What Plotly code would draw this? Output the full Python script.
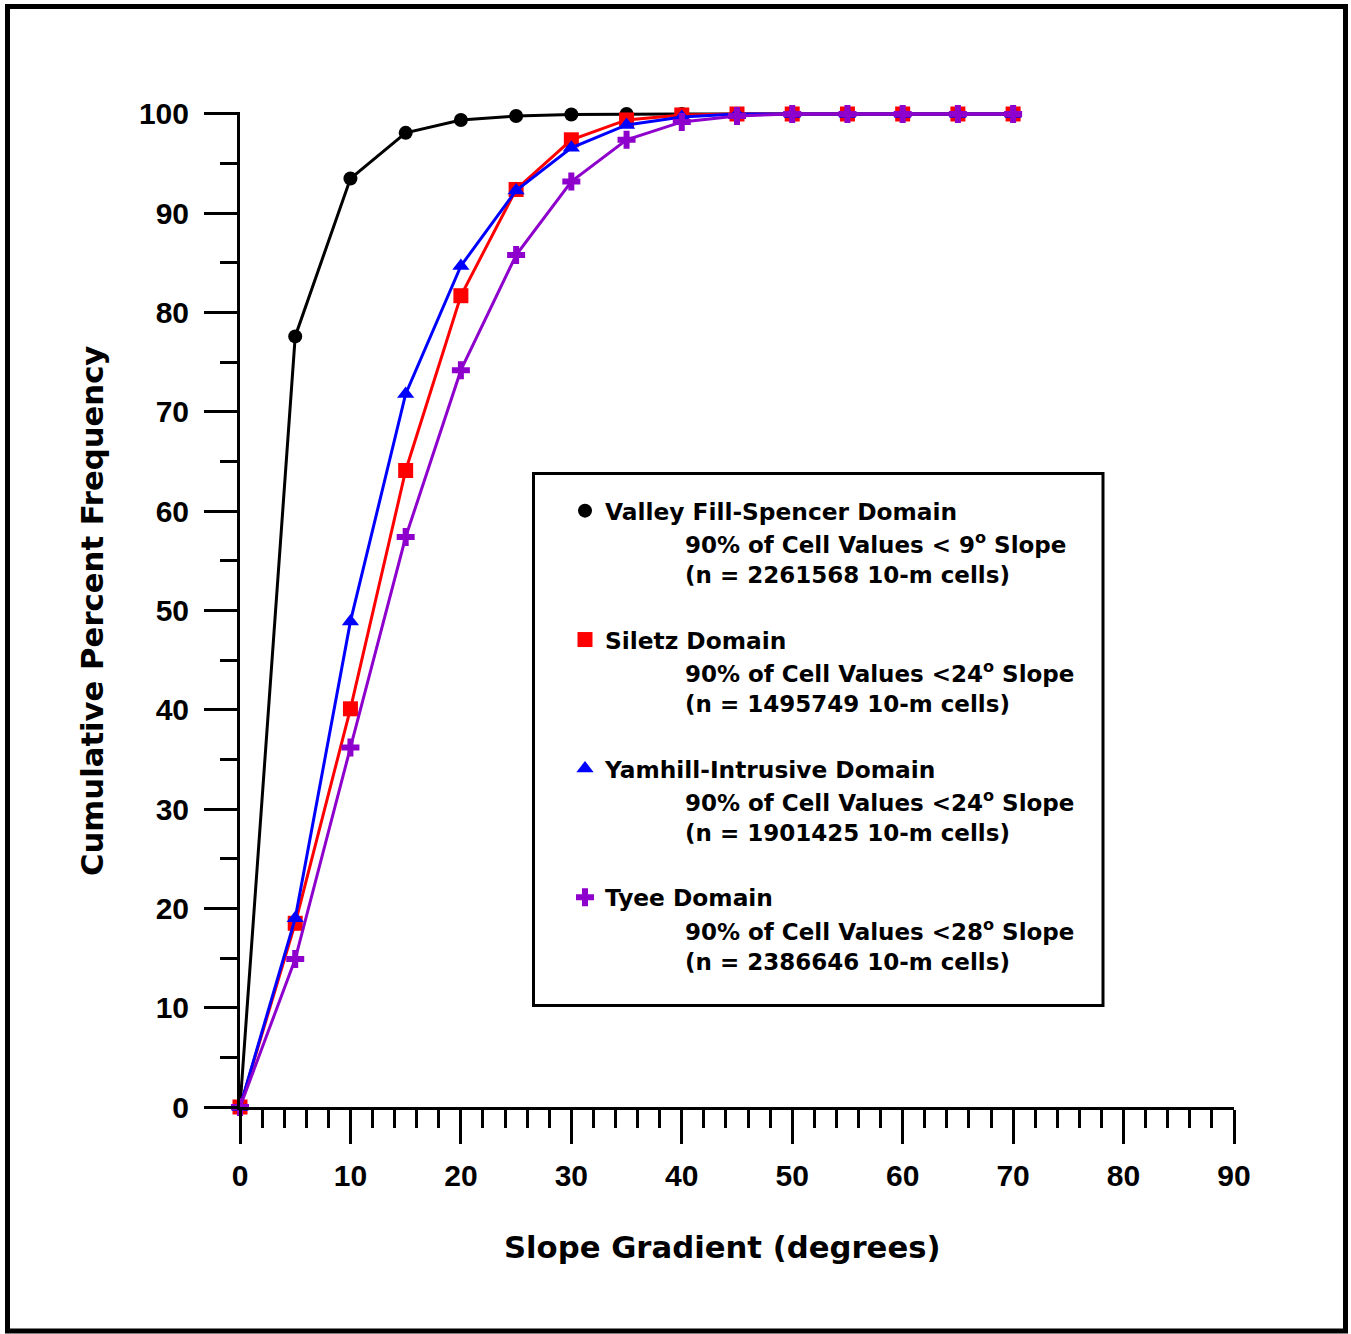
import plotly.graph_objects as go

# ---------------- data ----------------
slope_deg = [0, 5, 10, 15, 20, 25, 30, 35, 40, 45, 50, 55, 60, 65, 70]

valley_fill = [0, 77.6, 93.5, 98.1, 99.4, 99.8, 99.95, 100, 100, 100, 100, 100, 100, 100, 100]
siletz      = [0, 18.5, 40.1, 64.1, 81.7, 92.4, 97.4, 99.4, 99.9, 100, 100, 100, 100, 100, 100]
yamhill     = [0, 19.0, 48.9, 71.8, 84.7, 92.3, 96.6, 98.9, 99.7, 100, 100, 100, 100, 100, 100]
tyee        = [0, 14.9, 36.2, 57.4, 74.2, 85.8, 93.2, 97.4, 99.2, 99.8, 100, 100, 100, 100, 100]

series_names = ["Valley Fill-Spencer Domain", "Siletz Domain",
                "Yamhill-Intrusive Domain", "Tyee Domain"]
series_sub1 = ["90% of Cell Values < 9<sup>o</sup> Slope",
               "90% of Cell Values <24<sup>o</sup> Slope",
               "90% of Cell Values <24<sup>o</sup> Slope",
               "90% of Cell Values <28<sup>o</sup> Slope"]
series_sub2 = ["(n = 2261568 10-m cells)", "(n = 1495749 10-m cells)",
               "(n = 1901425 10-m cells)", "(n = 2386646 10-m cells)"]

x_tick_vals = [0, 10, 20, 30, 40, 50, 60, 70, 80, 90]
y_tick_vals = [0, 10, 20, 30, 40, 50, 60, 70, 80, 90, 100]

# ---------------- styling ----------------
W, H = 1351, 1334
L, R_EDGE, T, B_EDGE = 240, 1234, 112, 1107   # plot area in pixels
Y_MAX = 100.2

def px_x(p):
    return (p - L) / (R_EDGE - L)

def px_y(p):
    return (B_EDGE - p) / (B_EDGE - T)

colors = ["#000000", "#FF0000", "#0000FF", "#8E00CC"]
symbols = ["circle", "square", "triangle-up", "cross"]
msizes = [14, 15, 15, 15]
lwidths = [3, 3, 3, 3]
all_series = [valley_fill, siletz, yamhill, tyee]

TICK_FONT = dict(family="Liberation Sans, Arial, sans-serif", size=30, color="black", weight="bold")
TEXT_FAMILY = "DejaVu Sans, Verdana, sans-serif"

fig = go.Figure()
for i, ys in enumerate(all_series):
    fig.add_trace(go.Scatter(
        x=slope_deg, y=ys, mode="lines",
        line=dict(color=colors[i], width=lwidths[i]),
        showlegend=False, cliponaxis=False, hoverinfo="skip"))
    fig.add_trace(go.Scatter(
        x=slope_deg, y=ys, mode="markers", name=series_names[i],
        legendgroup=f"g{i}",
        marker=dict(color=colors[i], symbol=symbols[i], size=msizes[i], line=dict(width=0)),
        showlegend=True, cliponaxis=False))

axis_common = dict(
    showgrid=False, zeroline=False, showline=True, linecolor="black", linewidth=3,
    ticks="outside", tickcolor="black", tickwidth=3, tickfont=TICK_FONT,
)

fig.update_xaxes(range=[0, 90], tickvals=x_tick_vals, ticklen=34,
                 minor=dict(dtick=2, ticks="outside", ticklen=18, tickwidth=3, tickcolor="black"),
                 ticklabelstandoff=6, **axis_common)
fig.update_yaxes(range=[0, Y_MAX], tickvals=y_tick_vals, ticklen=33,
                 minor=dict(tickvals=[5, 15, 25, 35, 45, 55, 65, 75, 85, 95], ticks="outside",
                            ticklen=17, tickwidth=3, tickcolor="black"),
                 ticklabelstandoff=9, **axis_common)

shapes = [
    # outer frame
    dict(type="rect", xref="paper", yref="paper",
         x0=px_x(7.5), x1=px_x(1345.5), y0=px_y(1331), y1=px_y(6.5),
         line=dict(color="black", width=5), layer="below"),
    # legend box
    dict(type="rect", xref="paper", yref="paper",
         x0=px_x(533.5), x1=px_x(1103), y0=px_y(1005.5), y1=px_y(473.5),
         line=dict(color="black", width=3), layer="below"),
]

annotations = [
    dict(text="Slope Gradient (degrees)", xref="paper", yref="paper",
         x=px_x(722), y=px_y(1247), xanchor="center", yanchor="middle", showarrow=False,
         font=dict(family=TEXT_FAMILY, size=30.7, color="black", weight="bold")),
    dict(text="Cumulative Percent Frequency", xref="paper", yref="paper",
         x=px_x(92), y=px_y(611), xanchor="center", yanchor="middle", showarrow=False,
         textangle=-90,
         font=dict(family=TEXT_FAMILY, size=30.7, color="black", weight="bold")),
]
first_line_y = [511, 640, 769, 898]
for i in range(4):
    for j, txt in enumerate([series_sub1[i], series_sub2[i]]):
        annotations.append(dict(
            text=txt, xref="paper", yref="paper", x=px_x(683), y=px_y(first_line_y[i] + 32.5 * (j + 1) - 1),
            xanchor="left", yanchor="middle", showarrow=False,
            font=dict(family=TEXT_FAMILY, size=23, color="black", weight="bold")))

fig.update_layout(
    width=W, height=H, autosize=False,
    margin=dict(l=L, r=W - R_EDGE, t=T, b=H - B_EDGE, pad=0),
    paper_bgcolor="white", plot_bgcolor="white",
    shapes=shapes, annotations=annotations,
    legend=dict(x=px_x(565), y=px_y(489), xanchor="left", yanchor="top",
                bgcolor="rgba(0,0,0,0)", borderwidth=0, traceorder="grouped",
                tracegroupgap=95.6,
                font=dict(family=TEXT_FAMILY, size=23.3, color="black", weight="bold")),
)

fig.write_html("out.html")
